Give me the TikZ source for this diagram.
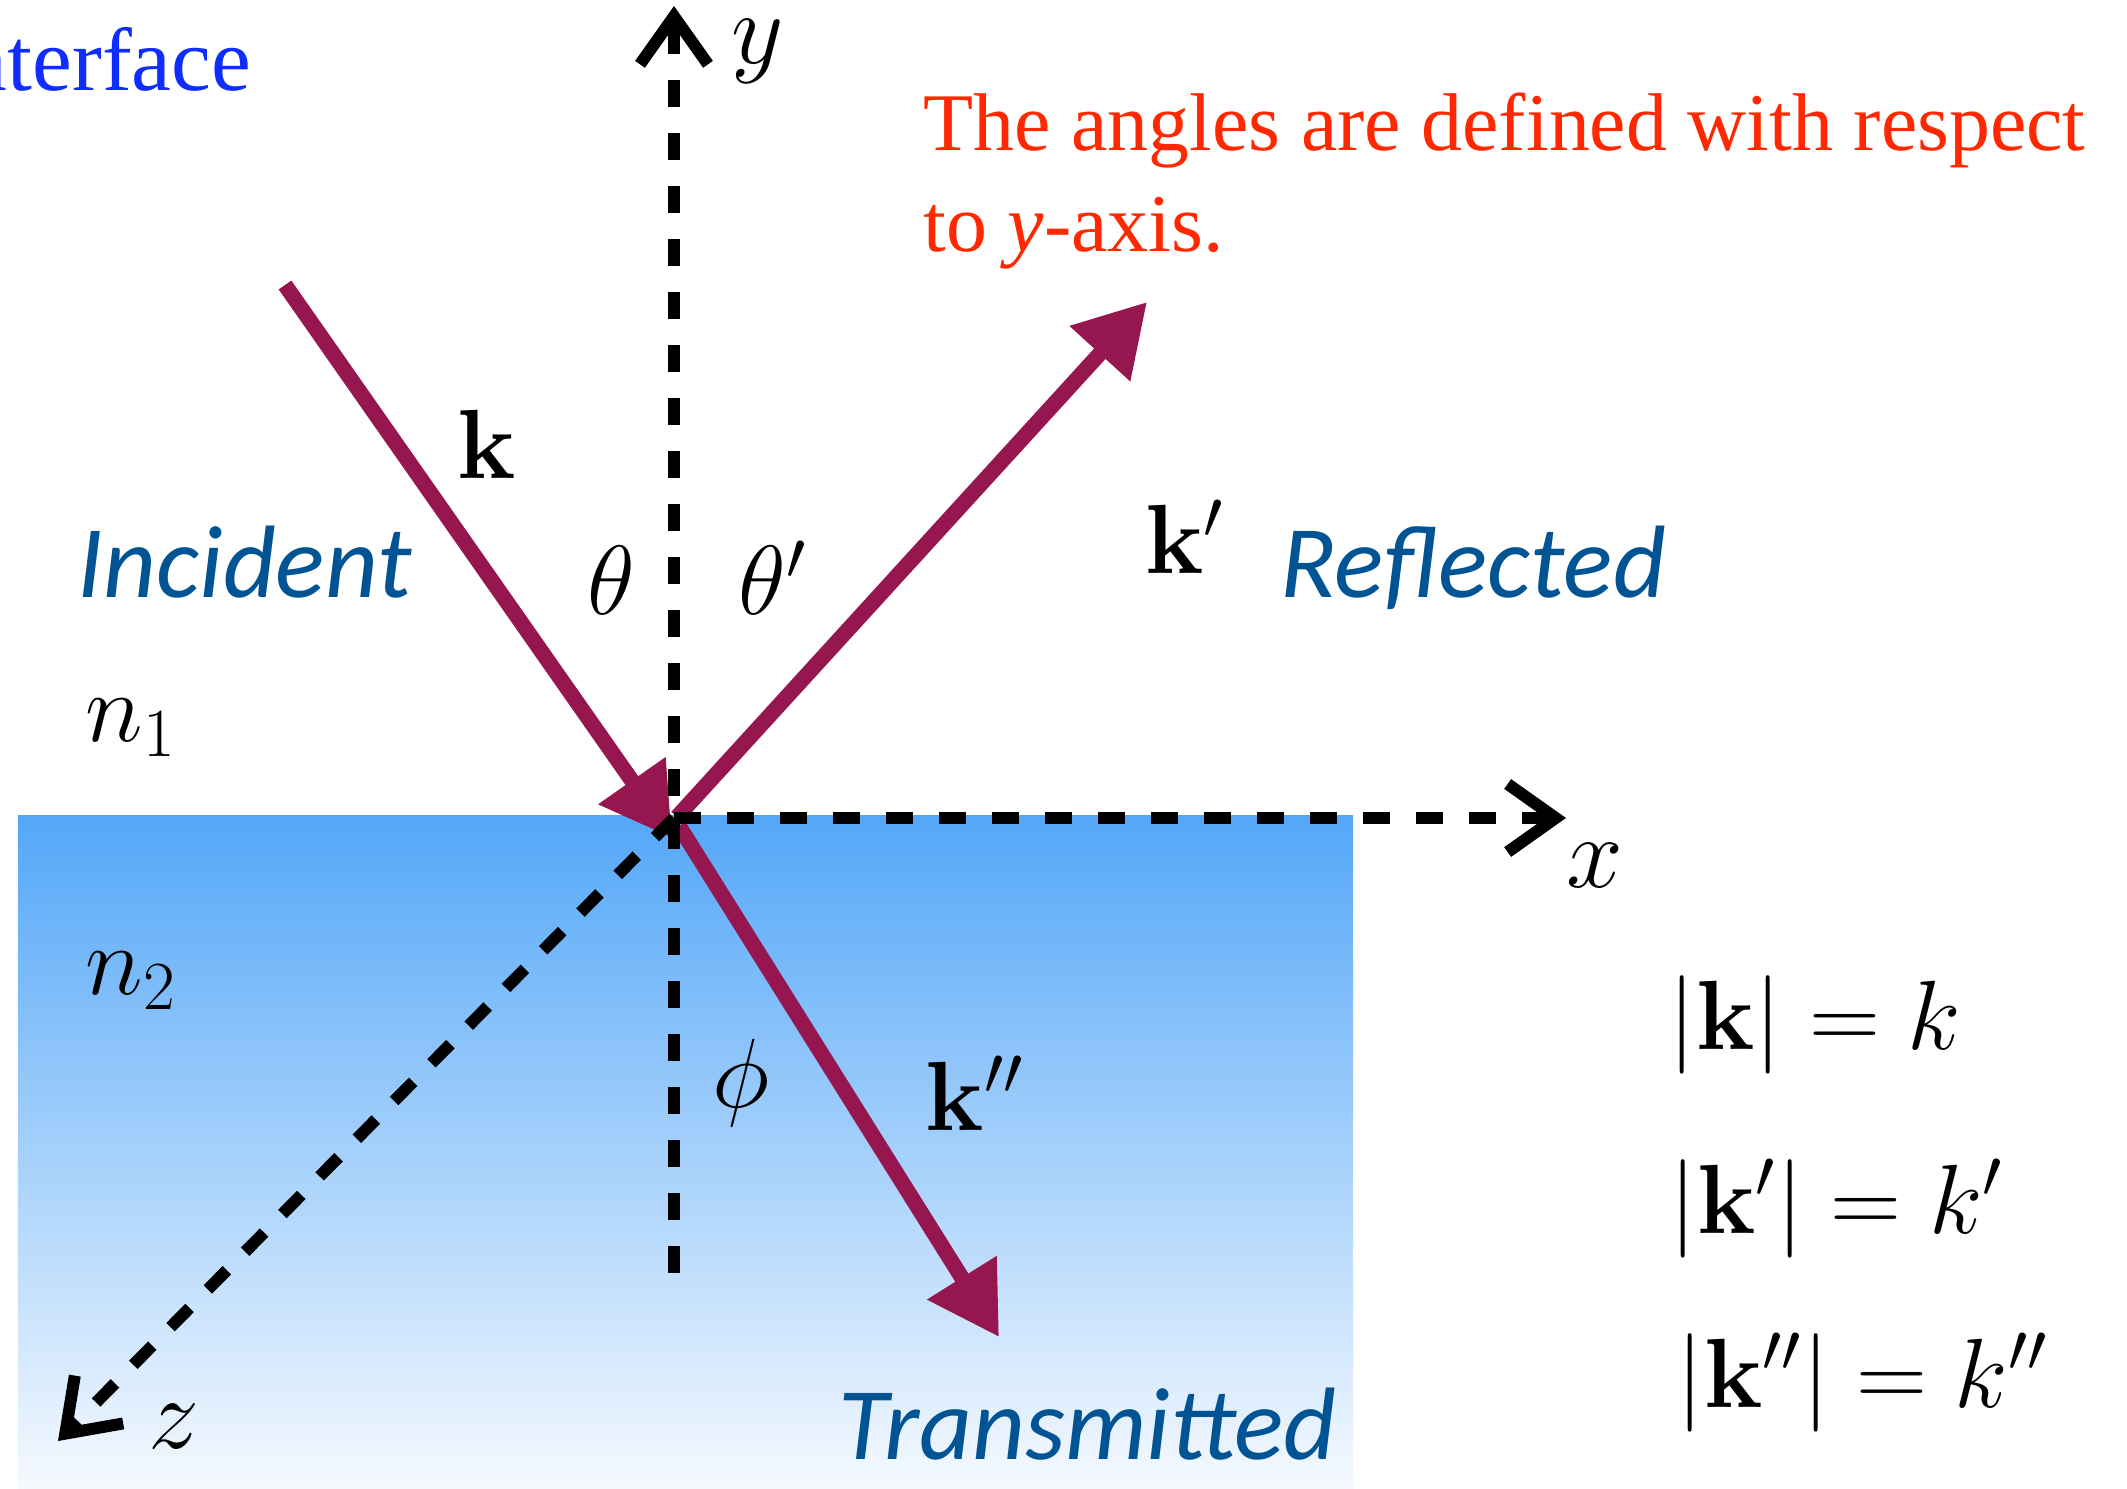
\RequirePackage{fix-cm}
\documentclass[tikz,border=0pt]{standalone}
\usepackage[no-math]{fontspec}
\newfontfamily\timesfont{Liberation Serif}
\newfontfamily\calibfont{Carlito}
\usetikzlibrary{arrows.meta}
\definecolor{raycol}{RGB}{150,22,80}
\definecolor{labelblue}{RGB}{0,84,147}
\definecolor{notered}{RGB}{255,40,0}
\definecolor{ifblue}{RGB}{15,45,255}
\definecolor{watertop}{RGB}{84,167,248}
\definecolor{waterbot}{RGB}{245,249,254}
\begin{document}
\begin{tikzpicture}[
  ray/.style={raycol,line width=4.4pt,-{Triangle[length=7mm,width=7.8mm]}},
  axis/.style={line width=3.4pt,dash pattern=on 2.7mm off 2.6mm,-{Straight Barb[sharp,length=4.8mm,width=6.8mm]}},
  lbl/.style={font=\fontsize{28}{32}\selectfont},
  axlbl/.style={inner sep=0pt,font=\fontsize{29}{33}\selectfont},
  region/.style={labelblue,inner sep=0pt,anchor=base west,font=\calibfont\itshape\fontsize{29.3}{34}\selectfont},
  note/.style={notered,inner sep=0pt,anchor=base west,font=\timesfont\fontsize{23.3}{28}\selectfont},
]
\useasboundingbox (0,0) rectangle (21.27,14.88);
% medium n2
\shade[top color=watertop,bottom color=waterbot] (0.18,0) rectangle (13.53,6.73);

\coordinate (O) at (6.74,6.70);
\coordinate (ytip) at (6.74,14.82);
\coordinate (ybot) at (6.74,2.15);
\coordinate (xtip) at (15.66,6.70);
\coordinate (ztip) at (0.58,0.47);

\coordinate (incstart) at (2.85,12.03);
\coordinate (inctip) at (6.72,6.50);
\coordinate (refstart) at (6.77,6.71);
\coordinate (reftip) at (11.47,11.86);
\coordinate (trstart) at (6.79,6.62);
\coordinate (trtip) at (9.99,1.51);

% waves
\draw[ray] (incstart) -- (inctip);
\draw[ray] (refstart) -- (reftip);
\draw[ray] (trstart) -- (trtip);

% axes
\draw[axis] (ybot) -- (ytip);
\draw[axis] (O) -- (xtip);
\draw[axis] (O) -- (ztip);

\node[axlbl] (ylab) at (7.58,14.37) {$y$};
\node[axlbl] (xlab) at (15.95,6.22) {$x$};
\node[axlbl] (zlab) at (1.74,0.61) {$z$};

\node[lbl] (kinc) at (4.87,10.44) {$\mathbf{k}$};
\node[lbl] (kref) at (11.85,9.51) {$\mathbf{k}'$};
\node[lbl] (ktr) at (9.75,3.95) {$\mathbf{k}''$};
\node[lbl] (thinc) at (6.11,9.08) {$\theta$};
\node[lbl] (thref) at (7.73,9.10) {$\theta'$};
\node[lbl] (phitr) at (7.41,4.05) {$\phi$};
\node[lbl] (none) at (1.31,7.60) {$n_1$};
\node[lbl] (ntwo) at (1.31,5.07) {$n_2$};

\node[region] (incident) at (0.77,8.91) {Incident};
\node[region] (reflected) at (12.80,8.91) {Reflected};
\node[region] (transmitted) at (8.38,0.29) {Transmitted};

\node[note] (noteone) at (9.23,13.37) {The angles are defined with respect};
\node[note] (notetwo) at (9.23,12.37) {to \textit{y}-axis.};
\node[ifblue,inner sep=0pt,anchor=base east,font=\timesfont\fontsize{25.5}{30}\selectfont] (iface) at (2.52,13.98) {Interface};

\node[lbl,inner sep=0pt,anchor=west] (eqk) at (16.68,4.63) {$|\mathbf{k}| = k$};
\node[lbl,inner sep=0pt,anchor=west] (eqkp) at (16.69,2.79) {$|\mathbf{k}'| = k'$};
\node[lbl,inner sep=0pt,anchor=west] (eqkpp) at (16.76,1.05) {$|\mathbf{k}''| = k''$};
\end{tikzpicture}
\end{document}
